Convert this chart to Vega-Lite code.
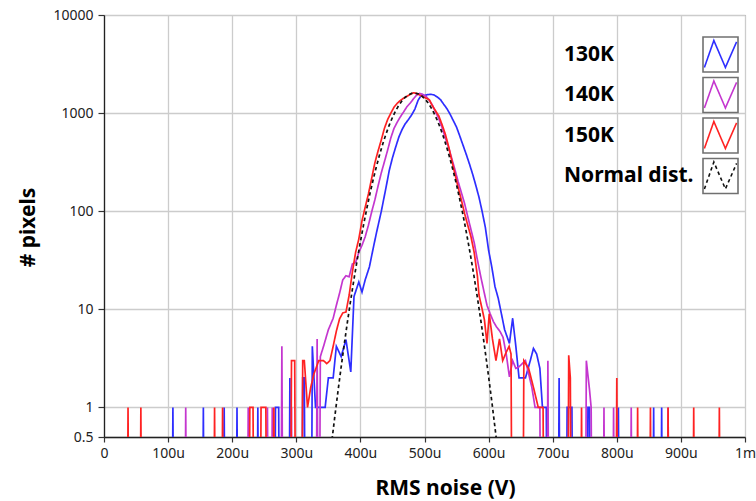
{
"$schema": "https://vega.github.io/schema/vega-lite/v6.json",
"width": 641, "height": 422,
"autosize": {"type": "none"},
"padding": {"left": 104, "top": 15, "right": 11, "bottom": 64},
"background": "white",
"config": {"view": {"stroke": "#7a7a7a", "strokeWidth": 1}, "font": "Noto Sans"},
"data": {"values": [
{"series":"130K","uV":105,"count":0.001},{"series":"130K","uV":107.5,"count":1},{"series":"130K","uV":110,"count":0.001},
{"series":"130K","uV":152.5,"count":0.001},{"series":"130K","uV":155,"count":1},{"series":"130K","uV":157.5,"count":0.001},
{"series":"130K","uV":185,"count":0.001},{"series":"130K","uV":187.5,"count":1},{"series":"130K","uV":190,"count":0.001},
{"series":"130K","uV":205,"count":0.001},{"series":"130K","uV":207.5,"count":1},{"series":"130K","uV":210,"count":0.001},
{"series":"130K","uV":237.5,"count":0.001},{"series":"130K","uV":240,"count":1},{"series":"130K","uV":242.5,"count":0.001},
{"series":"130K","uV":265,"count":0.001},{"series":"130K","uV":267.5,"count":1},{"series":"130K","uV":270,"count":1},{"series":"130K","uV":272.5,"count":1},{"series":"130K","uV":275,"count":0.001},
{"series":"130K","uV":287.5,"count":0.001},{"series":"130K","uV":290,"count":2},{"series":"130K","uV":292.5,"count":0.001},
{"series":"130K","uV":307.5,"count":0.001},{"series":"130K","uV":310,"count":2},{"series":"130K","uV":312.5,"count":2},{"series":"130K","uV":315,"count":0.001},
{"series":"130K","uV":322.5,"count":0.001},{"series":"130K","uV":325,"count":4.2},{"series":"130K","uV":330,"count":1},{"series":"130K","uV":335,"count":1},{"series":"130K","uV":340,"count":1},{"series":"130K","uV":345,"count":1},{"series":"130K","uV":350,"count":2},{"series":"130K","uV":357.5,"count":2},{"series":"130K","uV":362.5,"count":4.2},{"series":"130K","uV":370,"count":3.3},{"series":"130K","uV":377.5,"count":4.9},{"series":"130K","uV":385,"count":2.3},{"series":"130K","uV":390,"count":13.5},{"series":"130K","uV":397.5,"count":19},{"series":"130K","uV":402.5,"count":15},{"series":"130K","uV":407.5,"count":20},{"series":"130K","uV":414,"count":27},{"series":"130K","uV":420,"count":42},{"series":"130K","uV":425,"count":60},{"series":"130K","uV":432.5,"count":99},{"series":"130K","uV":440,"count":175},{"series":"130K","uV":445,"count":260},{"series":"130K","uV":450,"count":350},{"series":"130K","uV":455,"count":450},{"series":"130K","uV":460,"count":570},{"series":"130K","uV":465,"count":680},{"series":"130K","uV":470,"count":780},{"series":"130K","uV":475,"count":860},{"series":"130K","uV":480,"count":960},{"series":"130K","uV":485,"count":1100},{"series":"130K","uV":490,"count":1350},{"series":"130K","uV":495,"count":1520},{"series":"130K","uV":500,"count":1510},{"series":"130K","uV":505,"count":1545},{"series":"130K","uV":510,"count":1555},{"series":"130K","uV":515,"count":1530},{"series":"130K","uV":520,"count":1460},{"series":"130K","uV":525,"count":1370},{"series":"130K","uV":530,"count":1230},{"series":"130K","uV":535,"count":1110},{"series":"130K","uV":540,"count":973},{"series":"130K","uV":545,"count":837},{"series":"130K","uV":550,"count":720},{"series":"130K","uV":555,"count":585},{"series":"130K","uV":560,"count":473},{"series":"130K","uV":565,"count":382},{"series":"130K","uV":570,"count":305},{"series":"130K","uV":575,"count":240},{"series":"130K","uV":580,"count":184},{"series":"130K","uV":585,"count":139},{"series":"130K","uV":590,"count":99},{"series":"130K","uV":595,"count":68},{"series":"130K","uV":600,"count":40},{"series":"130K","uV":605,"count":27},{"series":"130K","uV":610,"count":17},{"series":"130K","uV":615,"count":13},{"series":"130K","uV":620,"count":9},{"series":"130K","uV":625,"count":6.2},{"series":"130K","uV":632.5,"count":4.5},{"series":"130K","uV":637.5,"count":8.1},{"series":"130K","uV":642.5,"count":4.2},{"series":"130K","uV":647.5,"count":2},{"series":"130K","uV":652.5,"count":2},{"series":"130K","uV":657.5,"count":2},{"series":"130K","uV":665,"count":3},{"series":"130K","uV":670,"count":4},{"series":"130K","uV":675,"count":3.5},{"series":"130K","uV":680,"count":2.5},{"series":"130K","uV":684,"count":1},{"series":"130K","uV":690,"count":1},{"series":"130K","uV":692.5,"count":0.001},
{"series":"130K","uV":707.5,"count":0.001},{"series":"130K","uV":710,"count":2},{"series":"130K","uV":712.5,"count":0.001},
{"series":"130K","uV":720,"count":0.001},{"series":"130K","uV":722.5,"count":1},{"series":"130K","uV":725,"count":1},{"series":"130K","uV":727.5,"count":1},{"series":"130K","uV":730,"count":1},{"series":"130K","uV":732.5,"count":0.001},
{"series":"130K","uV":752.5,"count":0.001},{"series":"130K","uV":755,"count":1},{"series":"130K","uV":757.5,"count":1},{"series":"130K","uV":760,"count":0.001},
{"series":"130K","uV":800,"count":0.001},{"series":"130K","uV":802.5,"count":1},{"series":"130K","uV":805,"count":0.001},
{"series":"130K","uV":855,"count":0.001},{"series":"130K","uV":857.5,"count":1},{"series":"130K","uV":860,"count":0.001},
{"series":"130K","uV":867.5,"count":0.001},{"series":"130K","uV":870,"count":1},{"series":"130K","uV":872.5,"count":0.001},

{"series":"140K","uV":125,"count":0.001},{"series":"140K","uV":127.5,"count":1},{"series":"140K","uV":130,"count":0.001},
{"series":"140K","uV":222.5,"count":0.001},{"series":"140K","uV":225,"count":1},{"series":"140K","uV":227.5,"count":0.001},
{"series":"140K","uV":252.5,"count":0.001},{"series":"140K","uV":255,"count":1},{"series":"140K","uV":257.5,"count":0.001},
{"series":"140K","uV":260,"count":0.001},{"series":"140K","uV":262.5,"count":1},{"series":"140K","uV":265,"count":0.001},
{"series":"140K","uV":275,"count":0.001},{"series":"140K","uV":277.5,"count":4.2},{"series":"140K","uV":280,"count":0.001},
{"series":"140K","uV":290,"count":0.001},{"series":"140K","uV":292.5,"count":1},{"series":"140K","uV":295,"count":0.001},
{"series":"140K","uV":330,"count":0.001},{"series":"140K","uV":332.5,"count":5},{"series":"140K","uV":335,"count":0.001},{"series":"140K","uV":337.5,"count":3.3},{"series":"140K","uV":342.5,"count":4.2},{"series":"140K","uV":350,"count":6.2},{"series":"140K","uV":357.5,"count":8.1},{"series":"140K","uV":362.5,"count":11},{"series":"140K","uV":367.5,"count":14.6},{"series":"140K","uV":372.5,"count":20},{"series":"140K","uV":377.5,"count":22},{"series":"140K","uV":382.5,"count":21.5},{"series":"140K","uV":387.5,"count":29},{"series":"140K","uV":392.5,"count":30},{"series":"140K","uV":397.5,"count":38},{"series":"140K","uV":402.5,"count":45},{"series":"140K","uV":407.5,"count":55},{"series":"140K","uV":412.5,"count":72},{"series":"140K","uV":417.5,"count":98},{"series":"140K","uV":422.5,"count":130},{"series":"140K","uV":427.5,"count":180},{"series":"140K","uV":432.5,"count":245},{"series":"140K","uV":437.5,"count":320},{"series":"140K","uV":442.5,"count":420},{"series":"140K","uV":447.5,"count":560},{"series":"140K","uV":452.5,"count":700},{"series":"140K","uV":457.5,"count":810},{"series":"140K","uV":462.5,"count":920},{"series":"140K","uV":467.5,"count":1030},{"series":"140K","uV":472.5,"count":1160},{"series":"140K","uV":477.5,"count":1260},{"series":"140K","uV":482.5,"count":1390},{"series":"140K","uV":487.5,"count":1520},{"series":"140K","uV":492.5,"count":1590},{"series":"140K","uV":497.5,"count":1550},{"series":"140K","uV":502.5,"count":1480},{"series":"140K","uV":507.5,"count":1350},{"series":"140K","uV":512.5,"count":1200},{"series":"140K","uV":517.5,"count":1020},{"series":"140K","uV":522.5,"count":870},{"series":"140K","uV":527.5,"count":710},{"series":"140K","uV":532.5,"count":560},{"series":"140K","uV":537.5,"count":450},{"series":"140K","uV":542.5,"count":345},{"series":"140K","uV":547.5,"count":265},{"series":"140K","uV":552.5,"count":200},{"series":"140K","uV":557.5,"count":155},{"series":"140K","uV":562.5,"count":120},{"series":"140K","uV":567.5,"count":88},{"series":"140K","uV":572.5,"count":65},{"series":"140K","uV":577.5,"count":48},{"series":"140K","uV":582.5,"count":32},{"series":"140K","uV":587.5,"count":22},{"series":"140K","uV":592.5,"count":15.5},{"series":"140K","uV":597.5,"count":11},{"series":"140K","uV":602.5,"count":9},{"series":"140K","uV":607.5,"count":7.5},{"series":"140K","uV":612.5,"count":6.6},{"series":"140K","uV":617.5,"count":6},{"series":"140K","uV":622.5,"count":5.2},{"series":"140K","uV":627.5,"count":3.5},{"series":"140K","uV":632.5,"count":2.05},{"series":"140K","uV":637.5,"count":3},{"series":"140K","uV":642.5,"count":2.5},{"series":"140K","uV":647.5,"count":2.6},{"series":"140K","uV":652.5,"count":2.8},{"series":"140K","uV":657.5,"count":3},{"series":"140K","uV":662.5,"count":2.2},{"series":"140K","uV":667.5,"count":1.6},{"series":"140K","uV":672.5,"count":1},{"series":"140K","uV":677.5,"count":1},{"series":"140K","uV":680,"count":1},{"series":"140K","uV":682.5,"count":0.001},
{"series":"140K","uV":690,"count":0.001},{"series":"140K","uV":692.5,"count":3},{"series":"140K","uV":695,"count":0.001},
{"series":"140K","uV":750,"count":0.001},{"series":"140K","uV":752.5,"count":3},{"series":"140K","uV":757.5,"count":1.5},{"series":"140K","uV":760,"count":1},{"series":"140K","uV":762.5,"count":0.001},
{"series":"140K","uV":777.5,"count":0.001},{"series":"140K","uV":780,"count":1},{"series":"140K","uV":782.5,"count":0.001},
{"series":"140K","uV":792.5,"count":0.001},{"series":"140K","uV":795,"count":1},{"series":"140K","uV":797.5,"count":0.001},
{"series":"140K","uV":820,"count":0.001},{"series":"140K","uV":822.5,"count":1},{"series":"140K","uV":825,"count":0.001},
{"series":"140K","uV":877.5,"count":0.001},{"series":"140K","uV":880,"count":1},{"series":"140K","uV":882.5,"count":0.001},

{"series":"150K","uV":35,"count":0.001},{"series":"150K","uV":37.5,"count":1},{"series":"150K","uV":40,"count":0.001},
{"series":"150K","uV":55,"count":0.001},{"series":"150K","uV":57.5,"count":1},{"series":"150K","uV":60,"count":0.001},
{"series":"150K","uV":170,"count":0.001},{"series":"150K","uV":172.5,"count":1},{"series":"150K","uV":175,"count":0.001},
{"series":"150K","uV":182.5,"count":0.001},{"series":"150K","uV":185,"count":1},{"series":"150K","uV":187.5,"count":0.001},
{"series":"150K","uV":225,"count":0.001},{"series":"150K","uV":227.5,"count":1},{"series":"150K","uV":230,"count":1},{"series":"150K","uV":232.5,"count":1},{"series":"150K","uV":235,"count":0.001},
{"series":"150K","uV":242.5,"count":0.001},{"series":"150K","uV":245,"count":1},{"series":"150K","uV":247.5,"count":1},{"series":"150K","uV":250,"count":1},{"series":"150K","uV":252.5,"count":1},{"series":"150K","uV":255,"count":0.001},
{"series":"150K","uV":262.5,"count":0.001},{"series":"150K","uV":265,"count":1},{"series":"150K","uV":267.5,"count":0.001},
{"series":"150K","uV":290,"count":0.001},{"series":"150K","uV":292.5,"count":3},{"series":"150K","uV":295,"count":3},{"series":"150K","uV":297.5,"count":3},{"series":"150K","uV":300,"count":0.001},
{"series":"150K","uV":307.5,"count":0.001},{"series":"150K","uV":310,"count":3},{"series":"150K","uV":312.5,"count":3},{"series":"150K","uV":317.5,"count":1},{"series":"150K","uV":322.5,"count":1.6},{"series":"150K","uV":327.5,"count":2.2},{"series":"150K","uV":335,"count":3},{"series":"150K","uV":342.5,"count":3},{"series":"150K","uV":347.5,"count":2.8},{"series":"150K","uV":352.5,"count":3},{"series":"150K","uV":357.5,"count":4.2},{"series":"150K","uV":362.5,"count":6},{"series":"150K","uV":367.5,"count":8},{"series":"150K","uV":372.5,"count":9.2},{"series":"150K","uV":377.5,"count":9.4},{"series":"150K","uV":382.5,"count":14},{"series":"150K","uV":387.5,"count":24},{"series":"150K","uV":392.5,"count":38},{"series":"150K","uV":397.5,"count":52},{"series":"150K","uV":402.5,"count":80},{"series":"150K","uV":407.5,"count":110},{"series":"150K","uV":412.5,"count":150},{"series":"150K","uV":417.5,"count":215},{"series":"150K","uV":422.5,"count":310},{"series":"150K","uV":427.5,"count":410},{"series":"150K","uV":432.5,"count":530},{"series":"150K","uV":437.5,"count":700},{"series":"150K","uV":442.5,"count":860},{"series":"150K","uV":447.5,"count":1000},{"series":"150K","uV":452.5,"count":1150},{"series":"150K","uV":457.5,"count":1260},{"series":"150K","uV":462.5,"count":1350},{"series":"150K","uV":467.5,"count":1420},{"series":"150K","uV":472.5,"count":1480},{"series":"150K","uV":477.5,"count":1550},{"series":"150K","uV":482.5,"count":1610},{"series":"150K","uV":487.5,"count":1590},{"series":"150K","uV":492.5,"count":1530},{"series":"150K","uV":497.5,"count":1470},{"series":"150K","uV":502.5,"count":1420},{"series":"150K","uV":507.5,"count":1370},{"series":"150K","uV":512.5,"count":1180},{"series":"150K","uV":517.5,"count":1050},{"series":"150K","uV":522.5,"count":930},{"series":"150K","uV":527.5,"count":760},{"series":"150K","uV":532.5,"count":610},{"series":"150K","uV":537.5,"count":460},{"series":"150K","uV":542.5,"count":330},{"series":"150K","uV":547.5,"count":240},{"series":"150K","uV":552.5,"count":175},{"series":"150K","uV":557.5,"count":130},{"series":"150K","uV":562.5,"count":95},{"series":"150K","uV":567.5,"count":72},{"series":"150K","uV":572.5,"count":55},{"series":"150K","uV":577.5,"count":38},{"series":"150K","uV":582.5,"count":22},{"series":"150K","uV":585,"count":14},{"series":"150K","uV":590,"count":10},{"series":"150K","uV":593.5,"count":7.8},{"series":"150K","uV":597.5,"count":4.5},{"series":"150K","uV":601,"count":9},{"series":"150K","uV":606,"count":5},{"series":"150K","uV":611.5,"count":3},{"series":"150K","uV":617,"count":5},{"series":"150K","uV":622,"count":3},{"series":"150K","uV":627,"count":3.6},{"series":"150K","uV":632,"count":4.2},{"series":"150K","uV":635,"count":3.5},{"series":"150K","uV":637.5,"count":0.001},
{"series":"150K","uV":652.5,"count":0.001},{"series":"150K","uV":655,"count":3},{"series":"150K","uV":662.5,"count":2.5},{"series":"150K","uV":670,"count":1.6},{"series":"150K","uV":677.5,"count":1},{"series":"150K","uV":685,"count":1},{"series":"150K","uV":687.5,"count":0.001},
{"series":"150K","uV":722.5,"count":0.001},{"series":"150K","uV":725,"count":3.4},{"series":"150K","uV":727.5,"count":2},{"series":"150K","uV":730,"count":0.001},
{"series":"150K","uV":742.5,"count":0.001},{"series":"150K","uV":745,"count":1},{"series":"150K","uV":747.5,"count":0.001},
{"series":"150K","uV":797.5,"count":0.001},{"series":"150K","uV":800,"count":2},{"series":"150K","uV":802.5,"count":0.001},
{"series":"150K","uV":830,"count":0.001},{"series":"150K","uV":832.5,"count":1},{"series":"150K","uV":835,"count":0.001},
{"series":"150K","uV":850,"count":0.001},{"series":"150K","uV":852.5,"count":1},{"series":"150K","uV":855,"count":0.001},
{"series":"150K","uV":877.5,"count":0.001},{"series":"150K","uV":880,"count":1},{"series":"150K","uV":882.5,"count":0.001},
{"series":"150K","uV":917.5,"count":0.001},{"series":"150K","uV":920,"count":1},{"series":"150K","uV":922.5,"count":0.001},
{"series":"150K","uV":957.5,"count":0.001},{"series":"150K","uV":960,"count":1},{"series":"150K","uV":962.5,"count":0.001},

{"series":"Normal dist.","uV":350,"count":0.22},{"series":"Normal dist.","uV":355,"count":0.43},{"series":"Normal dist.","uV":360,"count":0.8},{"series":"Normal dist.","uV":365,"count":1.46},{"series":"Normal dist.","uV":370,"count":2.59},{"series":"Normal dist.","uV":375,"count":4.5},{"series":"Normal dist.","uV":380,"count":7.62},{"series":"Normal dist.","uV":385,"count":12.6},{"series":"Normal dist.","uV":390,"count":20.3},{"series":"Normal dist.","uV":395,"count":31.9},{"series":"Normal dist.","uV":400,"count":48.8},{"series":"Normal dist.","uV":405,"count":73.1},{"series":"Normal dist.","uV":410,"count":106.7},{"series":"Normal dist.","uV":415,"count":152},{"series":"Normal dist.","uV":420,"count":211},{"series":"Normal dist.","uV":425,"count":286},{"series":"Normal dist.","uV":430,"count":378},{"series":"Normal dist.","uV":435,"count":488},{"series":"Normal dist.","uV":440,"count":614},{"series":"Normal dist.","uV":445,"count":754},{"series":"Normal dist.","uV":450,"count":903},{"series":"Normal dist.","uV":455,"count":1056},{"series":"Normal dist.","uV":460,"count":1204},{"series":"Normal dist.","uV":465,"count":1338},{"series":"Normal dist.","uV":470,"count":1452},{"series":"Normal dist.","uV":475,"count":1537},{"series":"Normal dist.","uV":480,"count":1587},{"series":"Normal dist.","uV":485,"count":1599},{"series":"Normal dist.","uV":490,"count":1572},{"series":"Normal dist.","uV":495,"count":1507},{"series":"Normal dist.","uV":500,"count":1410},{"series":"Normal dist.","uV":505,"count":1287},{"series":"Normal dist.","uV":510,"count":1145},{"series":"Normal dist.","uV":515,"count":995},{"series":"Normal dist.","uV":520,"count":843},{"series":"Normal dist.","uV":525,"count":697},{"series":"Normal dist.","uV":530,"count":562},{"series":"Normal dist.","uV":535,"count":442},{"series":"Normal dist.","uV":540,"count":339},{"series":"Normal dist.","uV":545,"count":254},{"series":"Normal dist.","uV":550,"count":186},{"series":"Normal dist.","uV":555,"count":132},{"series":"Normal dist.","uV":560,"count":92},{"series":"Normal dist.","uV":565,"count":62.4},{"series":"Normal dist.","uV":570,"count":41.3},{"series":"Normal dist.","uV":575,"count":26.7},{"series":"Normal dist.","uV":580,"count":16.8},{"series":"Normal dist.","uV":585,"count":10.3},{"series":"Normal dist.","uV":590,"count":6.18},{"series":"Normal dist.","uV":595,"count":3.61},{"series":"Normal dist.","uV":600,"count":2.06},{"series":"Normal dist.","uV":605,"count":1.15},{"series":"Normal dist.","uV":610,"count":0.62},{"series":"Normal dist.","uV":615,"count":0.33},{"series":"Normal dist.","uV":620,"count":0.17}
]},
"mark": {"type": "line", "clip": true, "strokeWidth": 1.7},
"encoding": {
"x": {"field": "uV", "type": "quantitative",
  "scale": {"domain": [0, 1000], "nice": false, "zero": false},
  "axis": {"values": [0,100,200,300,400,500,600,700,800,900,1000],
    "labelExpr": "datum.value == 0 ? '0' : datum.value == 1000 ? '1m' : datum.value + 'u'",
    "labelFontSize": 14, "labelColor": "#222222", "labelPadding": 4, "labelFlush": false, "labelOverlap": false,
    "tickSize": 5, "tickColor": "#333333", "tickWidth": 1.2,
    "domainColor": "#222222", "domainWidth": 1.3,
    "grid": true, "gridColor": "#cccccc", "gridWidth": 1.3,
    "title": "RMS noise (V)", "titleFontSize": 21, "titleFontWeight": "bold", "titleColor": "#000000",
    "titleX": 341, "titleY": 57, "titleBaseline": "alphabetic", "titleAlign": "center"}},
"y": {"field": "count", "type": "quantitative",
  "scale": {"type": "log", "domain": [0.5, 10000], "nice": false},
  "axis": {"values": [0.5, 1, 10, 100, 1000, 10000], "format": ".1~f",
    "labelFontSize": 14, "labelColor": "#222222", "labelPadding": 5, "labelOverlap": false,
    "tickSize": 6, "tickColor": "#333333", "tickWidth": 1.2,
    "domainColor": "#222222", "domainWidth": 1.3,
    "grid": true, "gridColor": "#cccccc", "gridWidth": 1.3,
    "title": "# pixels", "titleFontSize": 21, "titleFontWeight": "bold", "titleColor": "#000000",
    "titleAngle": 270, "titleX": -70, "titleY": 212, "titleBaseline": "alphabetic", "titleAlign": "center"}},
"color": {"field": "series", "type": "nominal",
  "scale": {"range": ["#2e2eff", "#c436cf", "#ff2222", "#111111"]},
  "legend": {"orient": "none", "legendX": 598, "legendY": 21, "title": null, "padding": 0,
    "symbolType": "M-1,-1M1,1M-0.92,0.74L-0.38,-0.8L0.28,0.74L0.92,-0.72",
    "symbolSize": 1225, "symbolStrokeWidth": 1.6, "symbolFillColor": "transparent",
    "labelFontSize": 21, "labelFontWeight": "bold", "labelOffset": -175, "labelOpacity": 0,
    "rowPadding": -2.5}},
"strokeDash": {"field": "series", "type": "nominal",
  "scale": {"range": [[1,0],[1,0],[1,0],[3.5,3]]}},
"opacity": {"field": "series", "type": "nominal",
  "scale": {"type": "ordinal", "domain": ["130K", "140K", "150K", "Normal dist."], "range": [1,1,1,1]},
  "legend": {"orient": "none", "legendX": 598, "legendY": 21, "title": null, "padding": 0,
    "symbolType": "square", "symbolSize": 1225, "symbolStrokeWidth": 1.6,
    "symbolStrokeColor": "#707070", "symbolFillColor": "transparent",
    "labelFontSize": 21, "labelFontWeight": "bold", "labelColor": "#000000", "labelOffset": -175,
    "rowPadding": -2.5}}
}
}
